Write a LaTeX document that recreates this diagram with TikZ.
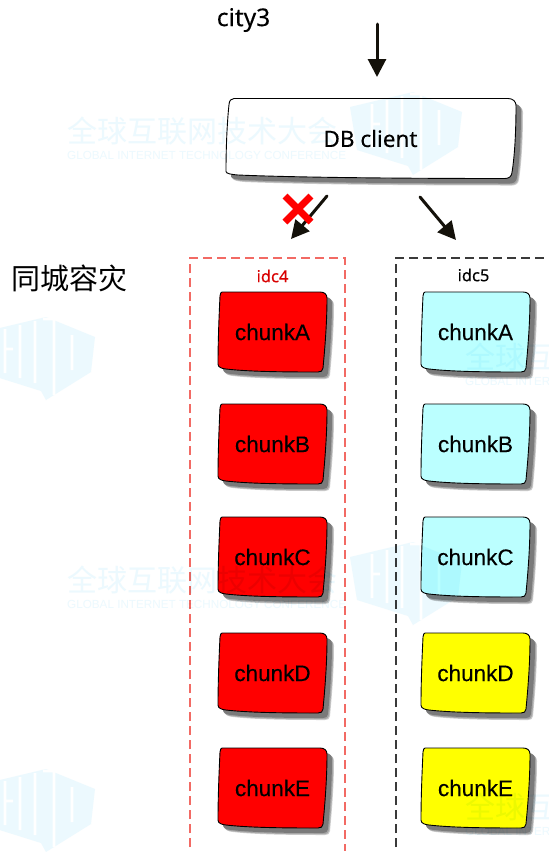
\documentclass[tikz,border=0pt]{standalone}
\usepackage{fontspec}
\setmainfont{Liberation Sans}
\newfontfamily\cjkf{Noto Sans CJK SC}
\newfontfamily\notof[FakeBold=0.2]{Noto Sans}
\newfontfamily\labf[FakeBold=0.25]{Liberation Sans}
\usetikzlibrary{arrows.meta}
\definecolor{wm}{HTML}{ECF9FE}
\definecolor{ink}{HTML}{14110A}
\definecolor{cyanbox}{HTML}{BBFFFF}
\definecolor{redbox}{RGB}{255,0,0}
\definecolor{yellowbox}{RGB}{255,255,0}
\definecolor{softred}{HTML}{F26A64}
\definecolor{softblack}{HTML}{3A3A3A}
\tikzset{
  flow/.style={draw=ink,line width=3pt,-{Triangle[width=18pt,length=18pt]},line cap=round},
  boxlabel/.style={font=\labf\fontsize{22.5}{26}\selectfont,text=black,inner sep=0pt},
  zone/.style={line width=1.1pt,dash pattern=on 9pt off 5pt},
  wmtext/.style={text=wm,inner sep=0pt,anchor=north west,font=\cjkf\fontsize{30}{32}\selectfont},
  wmsub/.style={text=wm,inner sep=0pt,anchor=north west,font=\fontsize{11.7}{14}\selectfont},
  cross/.style={draw=red,line width=7pt},
}
\newcommand{\chunkpath}{(4,0) -- (102,0) .. controls (106,0) and (109,2) .. (109,6)
  .. controls (109,30) and (107,55) .. (105,76) .. controls (104.5,79) and (103,80) .. (100,80)
  .. controls (60,80) and (30,79.5) .. (8,77) .. controls (3,76.5) and (0,75) .. (0,72)
  .. controls (0,50) and (1,25) .. (2,4) .. controls (2.2,1.5) and (3,0) .. (4,0) -- cycle}
\newcommand{\dbpath}{(8,0) -- (282,0) .. controls (287,0) and (290,3) .. (290,7)
  .. controls (290,30) and (289,55) .. (286,74) .. controls (285.5,78) and (283,80) .. (279,80)
  .. controls (180,80) and (70,79) .. (12,76.5) .. controls (5,76) and (0,75) .. (0,73)
  .. controls (0,50) and (1,25) .. (3,6) .. controls (3.4,2) and (5,0) .. (8,0) -- cycle}
% x, y, fill, path
\newcommand{\softbox}[4]{%
  \fill[black!20,shift={(#1+7,#2+7)}] #4;
  \fill[black!35,shift={(#1+6.2,#2+6.2)}] #4;
  \fill[black!52,shift={(#1+5,#2+5)}] #4;
  \filldraw[fill=#3,draw=black,line width=.9pt,shift={(#1,#2)}] #4;
}
% name, x, y, fill, text
\newcommand{\chunkbox}[5]{%
  \softbox{#2}{#3}{#4}{\chunkpath}
  \node[boxlabel] (#1) at ({#2+54.5},{#3+40}) {#5};
}
\newcommand{\logomark}[2]{%
  \begin{scope}[shift={(#1,#2)},blend mode=multiply,transparency group]
    \fill[wm] (0,17) -- (63,2) -- (112,22) -- (108,57) -- (63,85) -- (58,76) -- (7,60) -- cycle;
    \draw[white,line width=2.6pt] (22,14) -- (22,58) (37,10) -- (37,63) (30,34) -- (22,34)
      (52,6) -- (52,68) (60,4) -- (82,4) (71,4) -- (71,80) (89,20) -- (89,55);
  \end{scope}
}
\begin{document}
\begin{tikzpicture}[x=1pt,y=-1pt]
\useasboundingbox (0,0) rectangle (549,852);
\clip (0,0) rectangle (549,852);
\fill[white] (0,0) rectangle (549,852);
% labels
\node[font=\notof\fontsize{24.5}{28}\selectfont,inner sep=0pt] (city) at (243.5,20) {city3};
\node[font=\cjkf\fontsize{29}{32}\selectfont,inner sep=0pt] (tc) at (69.5,278) {同城容灾};
% zones
\draw[zone,draw=softred] (190,847) -- (190,258) -- (345,258) -- (345,851);
\draw[zone,draw=softblack] (396,847) -- (396,258) -- (549,258);
\node[font=\notof\fontsize{16.5}{18}\selectfont,text=red!85!black,inner sep=0pt] (idca) at (272.5,276) {idc4};
\node[font=\notof\fontsize{16.5}{18}\selectfont,inner sep=0pt] (idcb) at (473.5,275) {idc5};
% db client
\softbox{226}{98.5}{white}{\dbpath}
\node[font=\notof\fontsize{22.5}{26}\selectfont,inner sep=0pt] (db) at (370.5,138.5) {DB client};
% chunks
\chunkbox{ra}{218}{292}{redbox}{chunkA}
\chunkbox{rb}{218}{404}{redbox}{chunkB}
\chunkbox{rc}{218}{517}{redbox}{chunkC}
\chunkbox{rd}{218}{633}{redbox}{chunkD}
\chunkbox{re}{218}{748}{redbox}{chunkE}
\chunkbox{ca}{421}{292}{cyanbox}{chunkA}
\chunkbox{cb}{421}{404}{cyanbox}{chunkB}
\chunkbox{cc}{421}{517}{cyanbox}{chunkC}
\chunkbox{cd}{421}{633}{yellowbox}{chunkD}
\chunkbox{ce}{421}{748}{yellowbox}{chunkE}
% connectors
\coordinate (ina) at (377,24);
\coordinate (inb) at (377,77);
\coordinate (la) at (327,196);
\coordinate (lb) at (291,239);
\coordinate (ra1) at (420,197);
\coordinate (rb1) at (456,240);
\draw[flow] (ina) -- (inb);
\draw[flow] (la) -- (lb);
\draw[flow] (ra1) -- (rb1);
% cross
\coordinate (xa) at (285,196);
\coordinate (xb) at (311,222);
\coordinate (xc) at (311,196);
\coordinate (xd) at (285,222);
\draw[cross] (xa) -- (xb);
\draw[cross] (xc) -- (xd);
% watermarks over everything, as a tint
\logomark{350}{90}
\logomark{350}{540}
\logomark{-17}{315}
\logomark{-17}{767}
\begin{scope}[blend mode=multiply]
\node[wmtext] (wma) at (67,117) {全球互联网技术大会};
\node[wmsub] (wmb) at (67,151) {GLOBAL INTERNET TECHNOLOGY CONFERENCE};
\node[wmtext] (wmc) at (67,566) {全球互联网技术大会};
\node[wmsub] (wmd) at (67,600) {GLOBAL INTERNET TECHNOLOGY CONFERENCE};
\node[wmtext] (wme) at (465,343) {全球互联网技术大会};
\node[wmsub] (wmf) at (465,377) {GLOBAL INTERNET TECHNOLOGY CONFERENCE};
\node[wmtext] (wmg) at (465,793) {全球互联网技术大会};
\node[wmsub] (wmh) at (465,827) {GLOBAL INTERNET TECHNOLOGY CONFERENCE};
\end{scope}
\end{tikzpicture}
\end{document}
